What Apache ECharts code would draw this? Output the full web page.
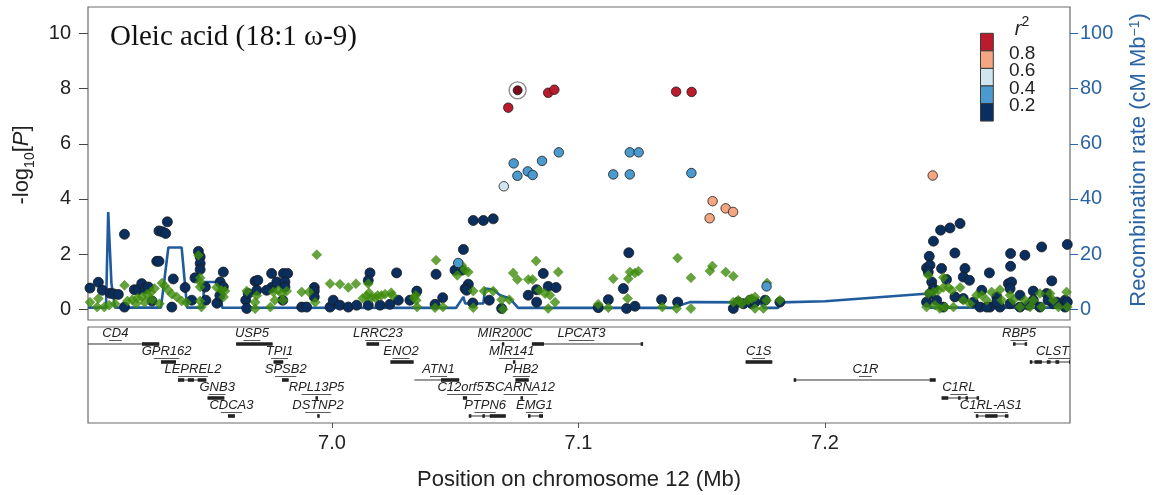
<!DOCTYPE html>
<html><head><meta charset="utf-8">
<script src="https://cdn.jsdelivr.net/npm/echarts@6/dist/echarts.min.js"></script>
<style>html,body{margin:0;padding:0;background:#fff}#c{width:1157px;height:495px}</style>
</head><body><div id="c"></div>
<script>
// ---------- data ----------
const titleText = 'Oleic acid (18:1 \u03c9-9)';
const xTicks = [7.0, 7.1, 7.2];
const yTicks = [0, 2, 4, 6, 8, 10];
const recTicks = [0, 20, 40, 60, 80, 100];
const r2Labels = ['0.8', '0.6', '0.4', '0.2'];
const r2Colors = ['#bc1a2d', '#f4a582', '#d1e5f0', '#4a9ad0', '#0a2f5f'];

const snpNavy = [
 [6.9018,0.77],[6.9052,0.98],[6.9068,0.69],[6.9100,0.58],[6.9113,0.56],[6.9133,0.54],[6.9158,2.72],[6.9158,0.08],
 [6.9198,0.71],[6.9214,0.71],[6.9228,0.93],[6.9241,0.75],[6.9255,0.81],[6.9270,0.30],[6.9289,1.74],[6.9298,1.74],
 [6.9298,2.84],[6.9312,2.81],[6.9325,2.75],[6.9332,3.17],[6.9356,1.10],[6.9350,0.08],[6.9404,0.79],[6.9431,0.33],
 [6.9444,1.14],[6.9458,2.10],[6.9465,1.90],[6.9465,1.66],[6.9465,1.44],[6.9486,0.81],[6.9488,0.33],[6.9533,0.22],
 [6.9545,0.50],[6.9559,1.35],[6.9546,0.99],[6.9559,0.81],[6.9650,0.33],[6.9660,0.57],[6.9654,0.03],[6.9688,1.02],
 [6.9699,1.05],[6.9695,0.69],[6.9755,1.30],[6.9803,1.30],[6.9820,1.30],[6.9755,0.79],[6.9735,0.69],[6.9776,0.99],
 [6.9809,0.99],[6.9809,0.81],[6.9800,0.33],[6.9877,0.08],[6.9897,0.08],[6.9928,0.79],[6.9928,0.66],[6.9928,0.45],
 [6.9992,0.08],[7.0005,0.33],[7.0032,0.15],[7.0066,0.08],[7.0100,0.15],[7.0147,0.15],[7.0195,0.15],[7.0235,0.18],
 [7.0154,1.32],[7.0147,1.05],[7.0262,1.32],[7.0269,0.33],[7.0316,0.33],[7.0344,0.66],[7.0422,1.27],[7.0449,0.42],
 [7.0418,0.18],[7.0499,1.42],[7.0526,1.42],[7.0533,2.17],[7.0553,0.91],[7.0540,0.75],[7.0546,0.69],[7.0571,0.23],
 [7.0638,0.33],[7.0688,0.03],[7.0796,0.51],[7.0830,0.71],[7.0830,0.26],[7.0857,1.30],[7.0877,0.83],[7.0909,0.79],
 [7.0573,3.22],[7.0614,3.22],[7.0654,3.28],
 [7.1080,0.06],[7.1121,0.35],[7.1204,2.05],[7.1182,0.75],[7.1195,0.03],[7.1229,0.11],[7.1337,0.35],[7.1402,0.26],
 [7.1628,0.03],[7.1648,0.26],[7.1669,0.20],[7.1696,0.33],[7.1703,0.20],[7.1716,0.26],[7.1757,0.33],[7.1817,0.26],
 [7.2548,3.11],[7.2507,2.95],[7.2469,2.87],[7.2440,2.47],[7.2527,2.04],[7.2423,1.92],[7.2412,1.50],[7.2426,1.60],
 [7.2419,1.35],[7.2473,1.48],[7.2568,1.48],[7.2561,1.17],[7.2586,1.05],[7.2667,1.32],[7.2753,2.02],[7.2753,1.56],
 [7.2811,1.96],[7.2879,2.26],[7.2983,2.35],[7.2920,1.03],[7.2744,0.93],[7.2757,0.99],[7.2751,0.75],[7.2433,0.99],
 [7.2493,1.08],[7.2440,0.75],[7.2636,0.69],[7.2697,0.45],[7.2669,0.08],[7.2791,0.51],[7.2845,0.66],[7.2899,0.57],
 [7.2940,0.26],[7.2974,0.33],[7.2412,0.26],[7.2453,0.33],[7.2480,0.08],[7.2527,0.45],[7.2561,0.39],[7.2602,0.26],
 [7.2629,0.08],[7.2656,0.08],[7.2710,0.08],[7.2791,0.08],[7.2825,0.15],[7.2872,0.08],[7.2926,0.20],[7.2974,0.08],
 [7.2983,0.26],[7.2697,0.26],[7.2751,0.20],[7.2845,0.33],[7.2905,0.33],[7.2426,0.57]
];
const snpGreen = [
 [6.9018,0.26],[6.9052,0.39],[6.9047,0.08],[6.9076,0.08],[6.9096,0.15],[6.9120,0.20],[6.9158,0.87],[6.9170,0.30],
 [6.9190,0.35],[6.9210,0.40],[6.9230,0.45],[6.9250,0.55],[6.9265,0.62],[6.9280,0.75],[6.9310,0.95],[6.9320,0.85],
 [6.9335,0.70],[6.9350,0.55],[6.9370,0.45],[6.9390,0.30],[6.9410,0.25],[6.9205,0.20],[6.9240,0.25],[6.9270,0.35],
 [6.9300,0.20],[6.9458,1.96],[6.9465,1.14],[6.9465,0.99],[6.9465,0.81],[6.9465,0.30],[6.9470,0.08],[6.9532,0.79],
 [6.9552,0.69],[6.9566,0.66],[6.9560,0.45],[6.9654,0.66],[6.9695,0.50],[6.9688,0.26],[6.9688,0.02],[6.9762,0.63],
 [6.9782,0.69],[6.9796,0.57],[6.9816,0.66],[6.9768,0.33],[6.9802,0.33],[6.9750,0.08],[6.9877,0.63],[6.9907,0.63],
 [6.9938,1.98],[6.9932,0.26],[6.9992,0.93],
 [7.0032,0.91],[7.0066,0.79],[7.0097,0.93],[7.0125,0.40],[7.0140,0.48],[7.0150,0.60],[7.0160,0.42],[7.0175,0.42],
 [7.0185,0.50],[7.0200,0.50],[7.0215,0.55],[7.0240,0.60],[7.0245,0.50],[7.0147,0.93],[7.0340,0.51],[7.0342,0.33],
 [7.0345,0.08],[7.0333,0.42],[7.0422,1.78],[7.0418,0.06],[7.0450,0.08],[7.0512,1.66],[7.0526,1.60],[7.0540,1.42],
 [7.0553,1.35],[7.0508,1.23],[7.0573,0.66],[7.0573,0.06],[7.0617,0.66],[7.0654,0.66],[7.0688,0.35],[7.0694,0.00],
 [7.0719,0.35],[7.0735,1.32],[7.0752,1.08],[7.0796,1.08],[7.0814,1.08],[7.0828,1.75],[7.0841,0.69],[7.0864,0.57],
 [7.0884,0.51],[7.0918,1.35],[7.0905,0.26],[7.0877,0.03],
 [7.1080,0.18],[7.1121,0.06],[7.1141,1.11],[7.1202,1.11],[7.1209,1.35],[7.1229,1.32],[7.1243,1.38],[7.1199,0.39],
 [7.1340,0.08],[7.1398,0.03],[7.1402,1.86],[7.1456,1.14],[7.1456,0.03],[7.1533,1.39],[7.1543,1.57],[7.1597,1.35],
 [7.1628,1.20],[7.1628,0.26],[7.1648,0.33],[7.1662,0.20],[7.1689,0.33],[7.1703,0.39],[7.1716,0.45],[7.1716,0.03],
 [7.1750,0.03],[7.1763,0.33],[7.1765,0.95],[7.1817,0.33],
 [7.2419,1.23],[7.2480,1.15],[7.2419,0.57],[7.2440,0.63],[7.2460,0.69],[7.2480,0.79],[7.2501,0.79],[7.2514,0.69],
 [7.2548,0.79],[7.2412,0.08],[7.2446,0.15],[7.2466,0.03],[7.2487,0.08],[7.2521,0.08],[7.2561,0.33],[7.2588,0.20],
 [7.2615,0.51],[7.2636,0.51],[7.2656,0.33],[7.2676,0.63],[7.2710,0.71],[7.2717,0.33],[7.2751,0.51],[7.2764,0.33],
 [7.2791,0.08],[7.2811,0.33],[7.2832,0.08],[7.2845,0.33],[7.2872,0.57],[7.2879,0.08],[7.2913,0.57],[7.2926,0.33],
 [7.2947,0.08],[7.2980,0.63],[7.2983,0.08]
];
const snpBlue = [
 [7.0737,5.29],[7.0752,4.84],[7.0794,5.00],[7.0814,4.87],[7.0852,5.38],[7.0920,5.69],[7.1141,4.89],[7.1208,5.69],
 [7.1244,5.69],[7.1208,4.89],[7.1458,4.94],[7.0512,1.68],[7.1763,0.83]
];
const snpLightBlue = [[7.0697,4.46]];
const snpSalmon = [[7.1544,3.92],[7.1597,3.66],[7.1627,3.53],[7.1532,3.30],[7.2437,4.85]];
const snpRed = [[7.0715,7.31],[7.0877,7.85],[7.0902,7.96],[7.1396,7.89],[7.1459,7.88]];
const leadSnp = [[7.0753,7.94]];

const recombPos  = [6.9010,6.9083,6.9092,6.9105,6.9120,6.9306,6.9336,6.9390,6.9412,6.9477,6.9481,6.9546,6.9554,
                    7.0503,7.0533,7.0540,7.0614,7.0621,7.0654,7.0682,7.0722,7.0755,7.1379,7.1452,7.1736,7.1753,
                    7.1809,7.1821,7.2000,7.2422,7.2426,7.2994];
const recombRate = [0.6,0.6,35.3,9.4,0.6,0.6,22.4,22.4,0.6,0.6,9.9,9.9,0.6,
                    0.5,4.5,2.1,2.1,7.5,7.2,5.1,3.9,0.5,0.5,2.6,2.5,0.5,
                    0.5,2.5,2.9,5.7,0.6,0.6];

const geneNames = ['CD4','USP5','LRRC23','MIR200C','LPCAT3','RBP5','GPR162','TPI1','ENO2','MIR141','C1S','CLSTN3',
  'LEPREL2','SPSB2','ATN1','PHB2','C1R','GNB3','RPL13P5','C12orf57','SCARNA12','C1RL','CDCA3','DSTNP2','PTPN6','EMG1','C1RL-AS1'];
const geneStart = [6.8950,6.9611,7.0140,7.0689,7.0811,7.2763,6.9306,6.9763,7.0237,7.0734,7.1678,7.2831,
  6.9375,6.9797,7.0334,7.0744,7.1873,6.9495,6.9933,7.0531,7.0765,7.2473,6.9578,6.9940,7.0555,7.0795,7.2612];
const geneEnd = [6.9299,6.9759,7.0191,7.0691,7.1257,7.2817,6.9367,6.9802,7.0331,7.0736,7.1786,7.3100,
  6.9490,6.9824,7.0516,7.0798,7.2449,6.9563,6.9935,7.0548,7.0767,7.2622,6.9606,6.9942,7.0705,7.0856,7.2744];
const geneRow = [0,0,0,0,0,0, 1,1,1,1,1,1, 2,2,2,2,2, 3,3,3,3,3, 4,4,4,4,4];
const geneLabelPos = [6.9121,6.9675,7.0186,7.0702,7.1012,7.2787,6.9329,6.9787,7.0280,7.0729,7.1731,7.2957,
  6.9436,6.9812,7.0432,7.0768,7.2164,6.9534,6.9937,7.0536,7.0765,7.2543,6.9592,6.9943,7.0621,7.0821,7.2673];
const geneExons = [
  [[6.9229,6.9299]], [[6.9611,6.9759]], [[7.0140,7.0191]], [[7.0689,7.0691]],
  [[7.0811,7.0860],[7.1252,7.1257]], [[7.2763,7.2767],[7.2810,7.2817]],
  [[6.9306,6.9367]], [[6.9763,6.9802]], [[7.0237,7.0331]], [[7.0734,7.0736]], [[7.1678,7.1786]],
  [[7.2831,7.2840],[7.2850,7.2880],[7.2900,7.2915],[7.2935,7.2950],[7.2990,7.3100]],
  [[6.9375,6.9400],[6.9415,6.9440],[6.9455,6.9490]], [[6.9797,6.9824]], [[7.0442,7.0516]], [[7.0744,7.0798]],
  [[7.1873,7.1880],[7.2425,7.2449]],
  [[6.9495,6.9563]], [[6.9933,6.9935]], [[7.0531,7.0548]], [[7.0765,7.0767]],
  [[7.2473,7.2500],[7.2540,7.2545],[7.2570,7.2575],[7.2615,7.2622]],
  [[6.9578,6.9606]], [[6.9940,6.9942]], [[7.0555,7.0560],[7.0610,7.0616],[7.0640,7.0705]],
  [[7.0795,7.0800],[7.0840,7.0856]], [[7.2612,7.2620],[7.2650,7.2700],[7.2730,7.2744]]
];

// ---------- chart ----------
const xMin = 6.9010, xMax = 7.2994;
const SANS = '"Liberation Sans", Arial, sans-serif';
const blueAxis = '#2a64a4';
const chart = echarts.init(document.getElementById('c'), null, {renderer: 'canvas'});

function scatter(data, color, size, symbol, extra) {
  return Object.assign({
    type: 'scatter', xAxisIndex: 0, yAxisIndex: 0, data: data, symbol: symbol || 'circle',
    symbolSize: size, silent: true,
    itemStyle: {color: color, borderColor: '#1b1b1b', borderWidth: 0.8, opacity: 1}
  }, extra || {});
}

const geneData = geneNames.map((n, i) => [geneLabelPos[i], geneRow[i], i]);

const option = {
  animation: false,
  backgroundColor: '#fff',
  textStyle: {fontFamily: SANS},
  grid: [
    {left: 88, top: 7, width: 982, height: 313, show: true, borderColor: '#6a6a6a', borderWidth: 1.2, backgroundColor: 'transparent'},
    {left: 88, top: 327, width: 982, height: 96, show: true, borderColor: '#6a6a6a', borderWidth: 1.2, backgroundColor: 'transparent'}
  ],
  xAxis: [
    {gridIndex: 0, type: 'value', min: xMin, max: xMax, show: false},
    {gridIndex: 1, type: 'value', min: xMin, max: xMax, position: 'bottom',
     axisLine: {show: false, onZero: false}, splitLine: {show: false},
     axisTick: {show: true, customValues: xTicks, length: 5, lineStyle: {color: '#555'}},
     axisLabel: {customValues: xTicks, formatter: v => v.toFixed(1), fontSize: 20, color: '#222', margin: 10, fontFamily: SANS}}
  ],
  yAxis: [
    {gridIndex: 0, type: 'value', min: -0.388, max: 10.96, axisLine: {show: false, onZero: false}, splitLine: {show: false},
     axisTick: {show: true, customValues: yTicks, length: 9, lineStyle: {color: '#444'}},
     axisLabel: {customValues: yTicks, fontSize: 20, color: '#222', margin: 17, fontFamily: SANS}},
    {gridIndex: 0, type: 'value', position: 'right', min: -3.88, max: 109.6, axisLine: {show: false, onZero: false}, splitLine: {show: false},
     axisTick: {show: true, customValues: recTicks, length: 8, lineStyle: {color: blueAxis}},
     axisLabel: {customValues: recTicks, fontSize: 20, color: blueAxis, margin: 10, fontFamily: SANS}},
    {gridIndex: 1, type: 'value', min: -0.944, max: 4.389, inverse: true, show: false}
  ],
  series: [
    {type: 'line', xAxisIndex: 0, yAxisIndex: 1, data: recombPos.map((x, i) => [x, recombRate[i]]),
     showSymbol: false, silent: true, lineStyle: {color: '#1f5b9d', width: 2.6}, z: 1},
    scatter(snpNavy, r2Colors[4], 10, 'circle', {z: 2}),
    scatter(snpGreen, '#3f8c0c', 10, 'diamond', {z: 3, itemStyle: {color: '#3f8c0c', borderColor: '#3a820a', borderWidth: 0.5}}),
    scatter(snpBlue, r2Colors[3], 9.5, 'circle', {z: 4}),
    scatter(snpLightBlue, r2Colors[2], 9.5, 'circle', {z: 4}),
    scatter(snpSalmon, r2Colors[1], 9.5, 'circle', {z: 4}),
    scatter(snpRed, r2Colors[0], 9.5, 'circle', {z: 4}),
    scatter(leadSnp, '#ffffff', 17, 'circle', {z: 5, itemStyle: {color: '#ffffff', borderColor: '#6e6e6e', borderWidth: 1.3}}),
    scatter(leadSnp, '#7a0d1d', 9, 'circle', {z: 6}),
    {type: 'custom', xAxisIndex: 1, yAxisIndex: 2, data: geneData, clip: true, silent: true,
     renderItem: function (params, api) {
       const i = api.value(2);
       const row = api.value(1);
       const p0 = api.coord([geneStart[i], row]);
       const p1 = api.coord([geneEnd[i], row]);
       const pl = api.coord([geneLabelPos[i], row]);
       const y = p0[1];
       const children = [];
       children.push({type: 'line', shape: {x1: p0[0], y1: y, x2: Math.max(p1[0], p0[0] + 1.5), y2: y},
                      style: {stroke: '#333', lineWidth: 1}});
       geneExons[i].forEach(function (ex) {
         const a = api.coord([ex[0], row])[0], b = api.coord([ex[1], row])[0];
         children.push({type: 'rect', shape: {x: a, y: y - 1.8, width: Math.max(b - a, 2.5), height: 3.6},
                        style: {fill: '#222'}});
       });
       const name = geneNames[i];
       const w = name.length * 7.6;
       children.push({type: 'line', shape: {x1: pl[0] - w * 0.28, y1: y - 3.5, x2: pl[0] + w * 0.28, y2: y - 3.5},
                      style: {stroke: '#444', lineWidth: 0.9}});
       children.push({type: 'text', x: pl[0], y: y - 4.5,
                      style: {text: name, font: 'italic 13px ' + SANS, fill: '#222', align: 'center', verticalAlign: 'bottom'}});
       return {type: 'group', children: children};
     }}
  ],
  graphic: [
    {type: 'text', x: 110, y: 37, style: {text: titleText, font: '29px "Liberation Serif", "Times New Roman", serif', fill: '#111', align: 'left', verticalAlign: 'middle'}},
    {type: 'text', x: 20, y: 165, rotation: Math.PI / 2,
     style: {text: '{a|-log}{s|10}{a|[}{i|P}{a|]}', align: 'center', verticalAlign: 'middle', fill: '#222',
       rich: {a: {fontSize: 22, fontFamily: SANS, fill: '#222', verticalAlign: 'bottom', lineHeight: 26},
              s: {fontSize: 14, fontFamily: SANS, fill: '#222', verticalAlign: 'bottom', lineHeight: 26, padding: [0, 0, -4, 0]},
              i: {fontSize: 22, fontFamily: SANS, fontStyle: 'italic', fill: '#222', verticalAlign: 'bottom', lineHeight: 26}}}},
    {type: 'text', x: 1141, y: 160, rotation: Math.PI / 2,
     style: {text: '{a|Recombination rate (cM Mb}{s|\u22121}{a|)}', align: 'center', verticalAlign: 'middle', fill: blueAxis,
       rich: {a: {fontSize: 22, fontFamily: SANS, fill: blueAxis, verticalAlign: 'top', lineHeight: 26},
              s: {fontSize: 14, fontFamily: SANS, fill: blueAxis, verticalAlign: 'top', lineHeight: 26}}}},
    {type: 'text', x: 579, y: 480, style: {text: 'Position on chromosome 12 (Mb)', font: '22px ' + SANS, fill: '#222', align: 'center', verticalAlign: 'middle'}},
    {type: 'text', x: 1022, y: 26,
     style: {text: '{i|r}{s|2}', align: 'center', verticalAlign: 'middle',
       rich: {i: {fontSize: 20, fontFamily: SANS, fontStyle: 'italic', fill: '#222', verticalAlign: 'top', lineHeight: 22, padding: [4, 0, 0, 0]},
              s: {fontSize: 14, fontFamily: SANS, fill: '#222', verticalAlign: 'top', lineHeight: 22}}}}
  ].concat(r2Colors.map((c, k) => ({type: 'rect', shape: {x: 980.5, y: 33.3 + k * 17.55, width: 12.8, height: 17.55},
                                     style: {fill: c, stroke: '#3a3a3a', lineWidth: 1}})))
   .concat(r2Labels.map((t, k) => ({type: 'text', x: 1009, y: 53.5 + k * 17.55,
                                     style: {text: t, font: '19px ' + SANS, fill: '#222', align: 'left', verticalAlign: 'middle'}})))
};
chart.setOption(option);
</script></body></html>
